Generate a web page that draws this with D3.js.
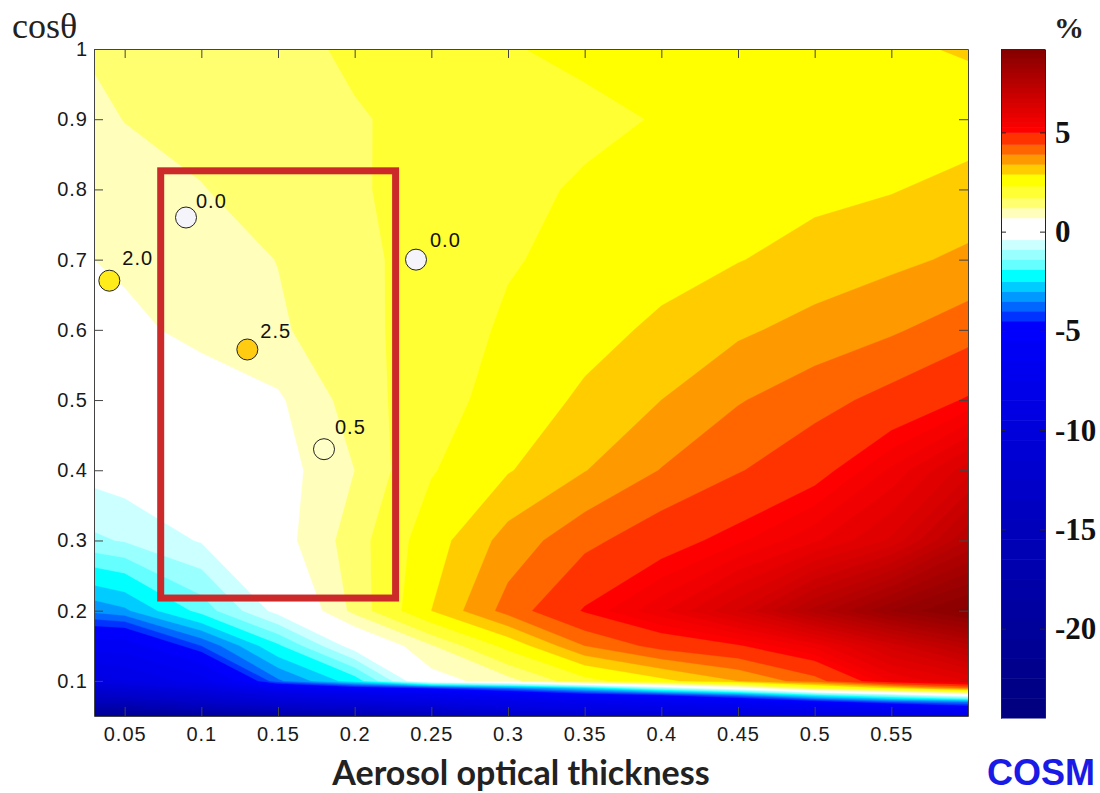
<!DOCTYPE html>
<html lang="en">
<head>
<meta charset="UTF-8">
<title>Aerosol optical thickness</title>
<script src="https://cdn.jsdelivr.net/npm/d3@7"></script>
<style>
    body { margin: 0; background: #fff; }
    svg { display: block; }
    .plot-axis text { font-family: "Liberation Sans", Arial, sans-serif; font-size: 20px; letter-spacing: 1px; fill: #1a1a1a; }
    .plot-axis line, .plot-axis path { stroke: #444; }
    .bar-axis text { font-family: "Liberation Serif", serif; font-weight: bold; font-size: 31px; fill: #111; }
    .bar-axis line { stroke: #222; }
    .bar-axis path { stroke: #222; }
</style>
</head>
<body>
<div id="chart"></div>
<script>
// grid of the contour plot, values in %
const aodValues = [0.03, 0.05, 0.1, 0.15, 0.2, 0.25, 0.3, 0.35, 0.4, 0.45, 0.5, 0.55, 0.6];
const cosValues = [1, 0.9, 0.8, 0.7, 0.6, 0.5, 0.4, 0.3, 0.2, 0.15, 0.1, 0.09, 0.08, 0.07, 0.06, 0.05];
const percentRows = [
    [1.25, 1.3, 1.4, 1.55, 1.78, 2.0, 2.27, 2.4, 2.5, 2.6, 2.7, 2.82, 2.95],
    [1.1, 1.21, 1.36, 1.51, 1.66, 1.83, 2.0, 2.19, 2.33, 2.42, 2.5, 2.58, 2.65],
    [0.95, 1.02, 1.18, 1.42, 1.64, 1.9, 2.17, 2.36, 2.52, 2.67, 2.78, 2.87, 3.07],
    [0.7, 0.8, 1.0, 1.21, 1.57, 1.9, 2.25, 2.47, 2.69, 2.88, 3.08, 3.28, 3.5],
    [0.3, 0.55, 0.87, 1.13, 1.52, 1.97, 2.39, 2.7, 3.01, 3.31, 3.58, 3.83, 4.18],
    [0.1, 0.2, 0.35, 0.62, 1.43, 2.05, 2.55, 3.0, 3.4, 3.86, 4.2, 4.58, 5.05],
    [-0.2, -0.1, 0.1, 0.45, 1.2, 2.25, 2.86, 3.38, 3.92, 4.36, 4.8, 5.55, 6.4],
    [-1.0, -0.85, -0.35, 0.45, 1.45, 2.65, 3.6, 4.25, 4.75, 5.2, 5.7, 6.3, 7.5],
    [-3.35, -3.1, -1.7, -0.2, 1.35, 2.9, 4.1, 5.05, 5.7, 6.5, 7.6, 8.5, 9.1],
    [-6, -6, -4, -2, -0.1, 1.15, 2.5, 3.9, 4.6, 4.95, 5.6, 6.6, 7.4],
    [-9, -8.5, -7, -3.6, -2.2, 0.45, 1.0, 2.1, 2.75, 3.4, 4.2, 5.5, 6],
    [-11, -10.5, -9, -6, -5, -4.4, -3.5, -2.5, -1, 0.3, 2, 3, 4],
    [-13, -12.5, -11, -9, -8, -7, -6, -5, -4.5, -3.5, -2, -1, 0.2],
    [-15, -15, -13, -11, -10, -9, -8, -7, -6.5, -6, -5, -4, -3.5],
    [-18, -18, -16, -14, -13, -12, -10, -9, -8.5, -8, -7, -6.5, -5.5],
    [-21, -21, -20, -18, -17, -15, -13, -12, -11, -10, -9, -8.5, -8]
];

// band edges
const bandEdges = [-4.5, -4, -3.5, -3, -2.5, -1.9, -1.4, -0.9, -0.4, 0.7, 1.2, 1.7, 2.3, 2.9, 3.4, 3.9, 4.4, 5];
const bandColors = ["#0033ff", "#0066ff", "#0099ff", "#00ccff", "#00ffff", "#66ffff", "#99ffff", "#ccffff",
    "#ffffff", "#ffffbb", "#ffff70", "#ffff33", "#ffff00", "#ffcc00", "#ff9900", "#ff6600", "#ff3300"];

const xTicks = [0.05, 0.1, 0.15, 0.2, 0.25, 0.3, 0.35, 0.4, 0.45, 0.5, 0.55];
const yTicks = [0.1, 0.2, 0.3, 0.4, 0.5, 0.6, 0.7, 0.8, 0.9, 1];
const barTicks = [-20, -15, -10, -5, 0, 5];

// the five marked stations
const pointAod = [0.04, 0.09, 0.13, 0.18, 0.24];
const pointCos = [0.67, 0.76, 0.572, 0.43, 0.70];
const pointLabels = ["2.0", "0.0", "2.5", "0.5", "0.0"];
const pointFills = ["#ffec1a", "#f4f4fa", "#ffcc11", "#ffffc8", "#f4f4fa"];
const labelDx = [13, 10, 13, 11, 14];
const labelDy = [-16, -10, -12, -15, -13];

// red box in data units: aod from, aod to, cos from, cos to
const boxAod = [0.0735, 0.2267];
const boxCos = [0.218, 0.8265];

const width = 1100, height = 793;
const barMin = -24.5, barMax = 9.2;

const x = d3.scaleLinear().domain([0.03, 0.6]).range([94, 968]);
const y = d3.scaleLinear().domain([0.05, 1]).range([716, 49]);
const barY = d3.scaleLinear().domain([barMin, barMax]).range([718, 49]);

// full list of bands: dark blues below, the read ones, dark reds above
const blues = d3.range(barMin, -4.5, 1);
const reds = d3.range(5.25, barMax, 0.25);
const blueColor = d3.scaleLinear().domain([barMin, -5]).range(["#000080", "#0000ff"]);
const redColor = d3.scaleLinear().domain([5, barMax]).range(["#ff0000", "#800000"]);
const allEdges = blues.concat(bandEdges, reds);
const colorOf = (edge) => {
    if (edge < bandEdges[0]) return blueColor(edge);
    if (edge >= 5) return redColor(edge);
    return bandColors[bandEdges.indexOf(edge)];
};

const svg = d3.select("#chart").append("svg").attr("width", width).attr("height", height);

svg.append("clipPath").attr("id", "plot-clip").append("rect")
    .attr("x", x(0.03)).attr("y", y(1))
    .attr("width", x(0.6) - x(0.03)).attr("height", y(0.05) - y(1));

// contours are computed on the index grid, then moved through the data scales
const columnToAod = d3.scaleLinear().domain(d3.range(aodValues.length)).range(aodValues);
const rowToCos = d3.scaleLinear().domain(d3.range(cosValues.length)).range(cosValues);
const contours = d3.contours()
    .size([aodValues.length, cosValues.length])
    .thresholds(allEdges)(percentRows.flat());

const gridPath = d3.geoPath(d3.geoTransform({
    point: function (px, py) {
        this.stream.point(x(columnToAod(px - 0.5)), y(rowToCos(py - 0.5)));
    }
}));

const field = svg.append("g").attr("clip-path", "url(#plot-clip)");
field.selectAll("path")
    .data(contours)
    .join("path")
    .attr("d", gridPath)
    .attr("fill", d => colorOf(d.value))
    .attr("stroke", d => colorOf(d.value))
    .attr("stroke-width", 0.3);

// axes, ticks point inwards on all four sides
const addAxis = (axis, tx, ty, values, showText) => {
    const g = svg.append("g").attr("class", "plot-axis")
        .attr("transform", `translate(${tx},${ty})`)
        .call(axis.tickValues(values).tickSizeOuter(0));
    if (!showText) g.selectAll("text").remove();
    return g;
};
addAxis(d3.axisBottom(x).tickSizeInner(-9).tickPadding(11).tickFormat(d => d), 0, y(0.05), xTicks, true);
addAxis(d3.axisTop(x).tickSizeInner(-9), 0, y(1), xTicks, false);
addAxis(d3.axisLeft(y).tickSizeInner(-9).tickPadding(6).tickFormat(d => d), x(0.03), 0, yTicks, true);
addAxis(d3.axisRight(y).tickSizeInner(-9), x(0.6), 0, yTicks, false);

// red box
svg.append("rect")
    .attr("x", x(boxAod[0])).attr("y", y(boxCos[1]))
    .attr("width", x(boxAod[1]) - x(boxAod[0]))
    .attr("height", y(boxCos[0]) - y(boxCos[1]))
    .attr("fill", "none")
    .attr("stroke", "#cc2a2a")
    .attr("stroke-width", 7);

// stations
const stations = d3.range(pointAod.length);
svg.selectAll("circle.station")
    .data(stations)
    .join("circle")
    .attr("class", "station")
    .attr("cx", i => x(pointAod[i]))
    .attr("cy", i => y(pointCos[i]))
    .attr("r", 10.5)
    .attr("fill", i => pointFills[i])
    .attr("stroke", "#222")
    .attr("stroke-width", 1);
svg.selectAll("text.station-label")
    .data(stations)
    .join("text")
    .attr("class", "station-label")
    .attr("x", i => x(pointAod[i]) + labelDx[i])
    .attr("y", i => y(pointCos[i]) + labelDy[i])
    .attr("font-family", "Liberation Sans, Arial, sans-serif")
    .attr("font-size", 20)
    .attr("letter-spacing", 1)
    .attr("fill", "#111")
    .text(i => pointLabels[i]);

// colour bar
const barX = 1001, barWidth = 44;
const bar = svg.append("g");
bar.selectAll("rect")
    .data(allEdges)
    .join("rect")
    .attr("x", barX)
    .attr("width", barWidth)
    .attr("y", (d, i) => barY(i + 1 < allEdges.length ? allEdges[i + 1] : barMax))
    .attr("height", (d, i) => barY(d) - barY(i + 1 < allEdges.length ? allEdges[i + 1] : barMax) + 0.5)
    .attr("fill", d => colorOf(d));

svg.append("g").attr("class", "bar-axis")
    .attr("transform", `translate(${barX + barWidth},0)`)
    .call(d3.axisRight(barY).tickValues(barTicks).tickSizeInner(-5).tickPadding(10).tickSizeOuter(0).tickFormat(d => String(d)));
const barLeft = svg.append("g").attr("class", "bar-axis")
    .attr("transform", `translate(${barX},0)`)
    .call(d3.axisLeft(barY).tickValues(barTicks).tickSizeInner(-5).tickSizeOuter(0));
barLeft.selectAll("text").remove();

// titles
svg.append("text")
    .attr("x", 521).attr("y", 785)
    .attr("text-anchor", "middle")
    .attr("font-family", "Lato, sans-serif")
    .attr("font-weight", "bold")
    .attr("font-size", 34)
    .attr("fill", "#222")
    .text("Aerosol optical thickness");
svg.append("text")
    .attr("x", 12).attr("y", 38)
    .attr("font-family", "Liberation Serif, serif")
    .attr("font-size", 36)
    .attr("fill", "#222")
    .text("cosθ");
svg.append("text")
    .attr("x", 1054).attr("y", 38)
    .attr("font-family", "Liberation Serif, serif")
    .attr("font-weight", "bold")
    .attr("font-size", 30)
    .attr("fill", "#222")
    .text("%");
svg.append("text")
    .attr("x", 987).attr("y", 785)
    .attr("font-family", "Liberation Sans, Arial, sans-serif")
    .attr("font-weight", "bold")
    .attr("font-size", 36)
    .attr("fill", "#1a1ae6")
    .text("COSM");
</script>
</body>
</html>
